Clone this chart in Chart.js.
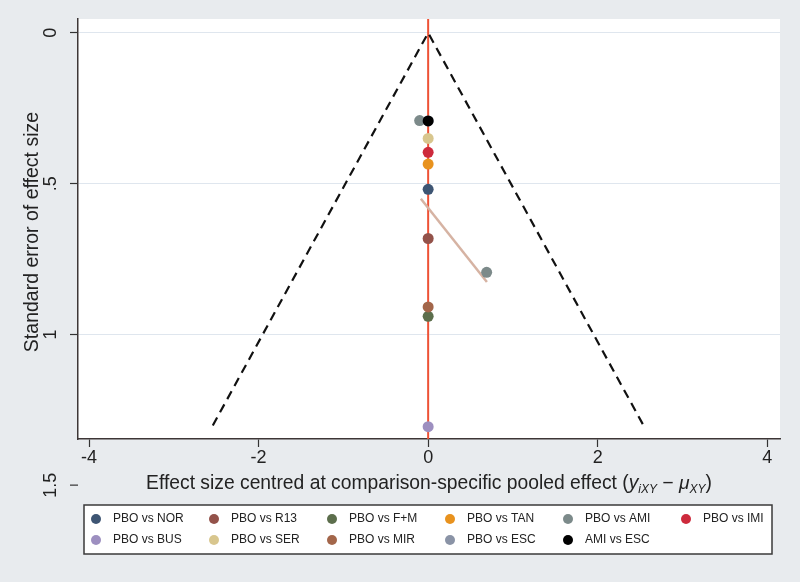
<!DOCTYPE html>
<html>
<head>
<meta charset="utf-8">
<script src="https://cdn.jsdelivr.net/npm/chart.js@4.4.1/dist/chart.umd.min.js"></script>
<style>
  html, body { margin: 0; padding: 0; background: #e8ebee; }
  #wrap { width: 800px; height: 582px; }
</style>
</head>
<body>
<div id="wrap"><canvas id="funnel" width="800" height="582"></canvas></div>
<script>
// data
const comparisons = ['PBO vs NOR', 'PBO vs R13', 'PBO vs F+M', 'PBO vs TAN', 'PBO vs AMI', 'PBO vs IMI',
  'PBO vs BUS', 'PBO vs SER', 'PBO vs MIR', 'PBO vs ESC', 'AMI vs ESC'];
const centredEffect = [[0], [0], [0], [0], [-0.10, 0.69], [0], [0], [0], [0], [0], [0]];
const standardError = [[0.519], [0.682], [0.940], [0.435], [0.291, 0.794], [0.396], [1.306], [0.350], [0.909], [0.292], [0.292]];
const funnelX = [-2.54, 0, 2.54];
const funnelY = [1.302, 0, 1.302];
const fitX = [-0.086, 0.693];
const fitY = [0.550, 0.826];
const pooledEffect = 0;
const xTicks = [-4, -2, 0, 2, 4];
const yTicks = [0, 0.5, 1, 1.5];
const yTickLabels = ['0', '.5', '1', '1.5'];

// styles
const colors = ['#3e5573', '#93524a', '#5c6e4c', '#e8921e', '#7c8a8a', '#cd2a3c',
  '#9d8fc0', '#d8c68e', '#a3664a', '#8a93a6', '#000000'];
const FONT = '"Liberation Sans", Arial, sans-serif';
const TEXT = '#222';

function $(selector) {
  return document.querySelector(selector);
}
function toPoints(xs, ys) {
  return xs.map((x, i) => ({ x, y: ys[i] }));
}

const scatterSets = comparisons.map((name, i) => ({
  type: 'scatter',
  label: name,
  data: toPoints(centredEffect[i], standardError[i]),
  backgroundColor: colors[i],
  borderColor: colors[i],
  borderWidth: 0,
  pointRadius: 5.5,
  order: comparisons.length - i
}));

const lineSets = [
  {
    type: 'line',
    label: 'funnel',
    data: toPoints(funnelX, funnelY),
    borderColor: '#111',
    borderWidth: 2.2,
    borderDash: [9, 6],
    pointRadius: 0,
    fill: false,
    order: 100
  },
  {
    type: 'line',
    label: 'fit',
    data: toPoints(fitX, fitY),
    borderColor: '#d6b3a3',
    borderWidth: 2.5,
    pointRadius: 0,
    fill: false,
    order: 50
  }
];

// plugins
const backdrop = {
  id: 'backdrop',
  beforeDraw(chart) {
    const { ctx, chartArea: a } = chart;
    ctx.save();
    ctx.fillStyle = '#e8ebee';
    ctx.fillRect(0, 0, chart.width, chart.height);
    ctx.fillStyle = '#ffffff';
    ctx.fillRect(a.left, a.top, a.right - a.left, a.bottom - a.top);
    ctx.restore();
  },
  beforeDatasetsDraw(chart) {
    const { ctx, chartArea: a } = chart;
    const px = chart.scales.x.getPixelForValue(pooledEffect);
    ctx.save();
    ctx.strokeStyle = '#ee5236';
    ctx.lineWidth = 2;
    ctx.beginPath();
    ctx.moveTo(px, a.top);
    ctx.lineTo(px, a.bottom);
    ctx.stroke();
    ctx.restore();
  }
};

const annotations = {
  id: 'annotations',
  afterDraw(chart) {
    const { ctx, chartArea: a } = chart;
    const yScale = chart.scales.y;
    ctx.save();
    ctx.fillStyle = TEXT;

    // y tick labels (rotated), plus the stray 1.5 tick
    ctx.font = '18px ' + FONT;
    ctx.textAlign = 'center';
    ctx.textBaseline = 'middle';
    yTicks.forEach((v, i) => {
      const py = yScale.getPixelForValue(v);
      ctx.save();
      ctx.translate(51, py);
      ctx.rotate(-Math.PI / 2);
      ctx.fillText(yTickLabels[i], 0, 0);
      ctx.restore();
      if (py > a.bottom) {
        ctx.strokeStyle = '#333';
        ctx.lineWidth = 1.2;
        ctx.beginPath();
        ctx.moveTo(a.left - 8, py);
        ctx.lineTo(a.left, py);
        ctx.stroke();
      }
    });

    // y title
    ctx.font = '19.5px ' + FONT;
    ctx.save();
    ctx.translate(33, (a.top + a.bottom) / 2 + 3);
    ctx.rotate(-Math.PI / 2);
    ctx.fillText('Standard error of effect size', 0, 0);
    ctx.restore();

    // x title with subscripts
    const parts = [
      { t: 'Effect size centred at comparison-specific pooled effect (', f: '19.3px ' + FONT, dy: 0 },
      { t: 'y', f: 'italic 19.3px ' + FONT, dy: 0 },
      { t: 'iXY', f: 'italic 12px ' + FONT, dy: 4 },
      { t: ' \u2212 \u03bc', f: 'italic 19.3px ' + FONT, dy: 0 },
      { t: 'XY', f: 'italic 12px ' + FONT, dy: 4 },
      { t: ')', f: '19.3px ' + FONT, dy: 0 }
    ];
    let total = 0;
    parts.forEach(p => { ctx.font = p.f; p.w = ctx.measureText(p.t).width; total += p.w; });
    let tx = (a.left + a.right) / 2 - total / 2;
    ctx.textAlign = 'left';
    ctx.textBaseline = 'alphabetic';
    parts.forEach(p => {
      ctx.font = p.f;
      ctx.fillText(p.t, tx, 489 + p.dy);
      tx += p.w;
    });

    // legend
    const boxLeft = 84, boxRight = 772, boxTop = 505, boxBottom = 554;
    ctx.fillStyle = '#ffffff';
    ctx.fillRect(boxLeft, boxTop, boxRight - boxLeft, boxBottom - boxTop);
    ctx.strokeStyle = '#3a3a3a';
    ctx.lineWidth = 1.5;
    ctx.strokeRect(boxLeft, boxTop, boxRight - boxLeft, boxBottom - boxTop);
    ctx.font = '12px ' + FONT;
    ctx.textBaseline = 'middle';
    comparisons.forEach((name, i) => {
      const col = i % 6;
      const row = Math.floor(i / 6);
      const mx = 96 + col * 118;
      const my = 519 + row * 21;
      ctx.fillStyle = colors[i];
      ctx.beginPath();
      ctx.arc(mx, my, 5, 0, Math.PI * 2);
      ctx.fill();
      ctx.fillStyle = TEXT;
      ctx.fillText(name, mx + 17, my);
    });
    ctx.restore();
  }
};

const chart = new Chart($('#funnel').getContext('2d'), {
  data: { datasets: [...lineSets, ...scatterSets] },
  options: {
    responsive: false,
    animation: false,
    layout: { padding: { top: 19, right: 20, left: 0, bottom: 0 } },
    plugins: { legend: { display: false }, tooltip: { enabled: false } },
    scales: {
      x: {
        type: 'linear',
        min: -4.13,
        max: 4.15,
        afterBuildTicks(scale) { scale.ticks = xTicks.map(v => ({ value: v })); },
        afterFit(scale) { scale.height = 143; },
        grid: { drawOnChartArea: false, tickColor: '#333', tickLength: 8, tickWidth: 1.2 },
        border: { color: '#3d3636', width: 1.5 },
        ticks: {
          color: TEXT,
          padding: 0,
          font: { family: FONT, size: 18 },
          callback: v => String(v)
        }
      },
      y: {
        type: 'linear',
        reverse: true,
        min: -0.046,
        max: 1.347,
        afterBuildTicks(scale) { scale.ticks = yTicks.filter(v => v <= 1.347).map(v => ({ value: v })); },
        afterFit(scale) { scale.width = 78; },
        grid: { color: '#dfe6ee', lineWidth: 1, tickColor: '#333', tickLength: 8, tickWidth: 1.2 },
        border: { color: '#3d3636', width: 1.5 },
        ticks: { display: false }
      }
    }
  },
  plugins: [backdrop, annotations]
});
</script>
</body>
</html>
